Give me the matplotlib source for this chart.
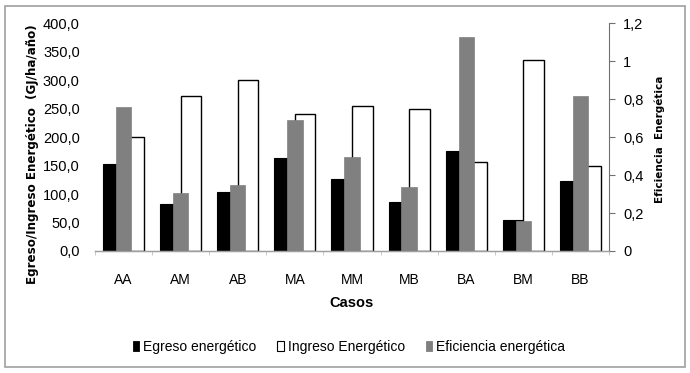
import matplotlib
matplotlib.use("Agg")
import matplotlib.pyplot as plt
import numpy as np
from matplotlib.patches import Rectangle, Patch

casos = ["AA", "AM", "AB", "MA", "MM", "MB", "BA", "BM", "BB"]
egreso = [152, 83, 104, 164, 127, 86, 176, 54, 123]
ingreso = [200, 273, 300, 240, 254, 250, 157, 335, 149]
eficiencia = [0.757, 0.306, 0.350, 0.690, 0.498, 0.336, 1.129, 0.157, 0.818]

left_ticks = [0, 50, 100, 150, 200, 250, 300, 350, 400]
left_labels = ["0,0", "50,0", "100,0", "150,0", "200,0", "250,0", "300,0", "350,0", "400,0"]
right_ticks = [0, 0.2, 0.4, 0.6, 0.8, 1.0, 1.2]
right_labels = ["0", "0,2", "0,4", "0,6", "0,8", "1", "1,2"]

plt.rcParams['font.family'] = ['Liberation Sans', 'DejaVu Sans']

W, H = 690, 373
fig = plt.figure(figsize=(W / 100, H / 100), dpi=100)

# outer border
fig.patches.append(Rectangle((5 / W, 1 - 367 / H), 680 / W, 361 / H, transform=fig.transFigure,
                             fill=False, edgecolor="#a0a0a0", linewidth=1.2))

x0, x1 = 95, 609
y0, y1 = 251, 23.3
ax = fig.add_axes([x0 / W, 1 - y0 / H, (x1 - x0) / W, (y0 - y1) / H])
ax2 = ax.twinx()

x = np.arange(len(casos))
bw = 0.36
ax.bar(x - bw / 2, egreso, width=bw, color="black", edgecolor="black", linewidth=0.8)
ax.bar(x + bw / 2, ingreso, width=bw, color="white", edgecolor="black", linewidth=1.0)
ax2.bar(x, eficiencia, width=0.27, color="#808080", edgecolor="#808080", linewidth=0.5)

ax.set_xlim(-0.5, len(casos) - 0.5)
ax.set_ylim(0, 400)
ax2.set_ylim(0, 1.2)

ax.set_yticks(left_ticks)
ax.set_yticklabels(left_labels, fontsize=10.5)
ax2.set_yticks(right_ticks)
ax2.set_yticklabels(right_labels, fontsize=10.5)
ax.tick_params(axis="y", length=0, pad=11)
ax2.tick_params(axis="y", length=4, width=0.8, color="#707070", pad=6)

ax.set_xticks(x)
ax.set_xticklabels(casos, fontsize=10)
ax.set_xticks(np.arange(len(casos) + 1) - 0.5, minor=True)
ax.tick_params(axis="x", which="major", length=0, pad=16)
ax.tick_params(axis="x", which="minor", length=3, color="#c0c0c0")

for a in (ax, ax2):
    for s in ("top", "left"):
        a.spines[s].set_visible(False)
ax.spines["right"].set_visible(False)
ax2.spines["bottom"].set_color("#a0a0a0")
ax.spines["bottom"].set_color("#a0a0a0")
ax.spines["bottom"].set_linewidth(1.0)
ax2.spines["right"].set_color("#707070")
ax2.spines["right"].set_linewidth(0.8)

fig.text(33 / W, 1 - 154 / H, "Egreso/Ingreso Energético  (GJ/ha/año)", rotation=90,
         ha="center", va="center", fontsize=8.6, fontweight="bold", family="DejaVu Sans")
fig.text(660 / W, 1 - 139 / H, "Eficiencia  Energética", rotation=90,
         ha="center", va="center", fontsize=7.5, fontweight="bold", family="DejaVu Sans")
fig.text(352 / W, 1 - 303 / H, "Casos", ha="center", va="center", fontsize=10.5, fontweight="bold")

handles = [Patch(facecolor="black", edgecolor="black", linewidth=0.6),
           Patch(facecolor="white", edgecolor="black", linewidth=0.8),
           Patch(facecolor="#808080", edgecolor="#808080", linewidth=0.6)]
fig.legend(handles, ["Egreso energético", "Ingreso Energético", "Eficiencia energética"],
           loc="center", bbox_to_anchor=(349 / W, 1 - 347 / H), ncol=3, frameon=False,
           fontsize=10, handlelength=0.45, handleheight=0.75, handletextpad=0.3,
           columnspacing=1.5)

fig.savefig("out.png", dpi=100)
